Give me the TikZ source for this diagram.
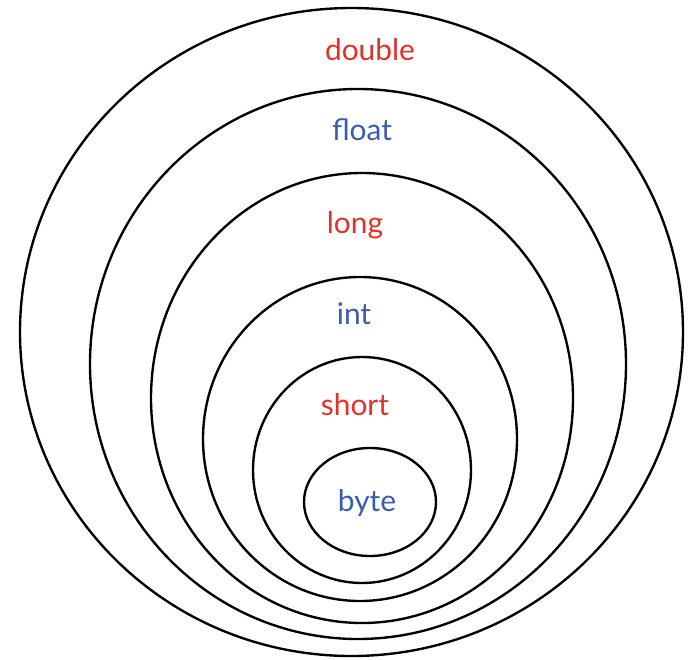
\documentclass[tikz,border=0pt]{standalone}
\usepackage{fontspec}
\setmainfont{Lato}
\usepackage{xcolor}
\definecolor{typered}{HTML}{E3302B}
\definecolor{typeblue}{HTML}{3A5CAD}

\tikzset{
  ring/.style={draw=black,line width=1.35pt},
  typename/.style={font=\fontsize{17}{20}\selectfont},
}

\begin{document}
\begin{tikzpicture}[x=0.02cm,y=-0.02cm]
  \useasboundingbox (0,0) rectangle (689,659);
  % Rings, outside in
  \draw[ring] (351.5,332) ellipse [x radius=331.5, y radius=324];
  \draw[ring] (358,364) ellipse [x radius=268, y radius=275];
  \draw[ring] (362,398) ellipse [x radius=211, y radius=225];
  \draw[ring] (360,439) ellipse [x radius=157, y radius=162];
  \draw[ring] (362,470) ellipse [x radius=109, y radius=113];
  \draw[ring] (370,502) ellipse [x radius=66, y radius=54];
  % Type names
  \node[typename,typered] (double) at (370,50) {double};
  \node[typename,typeblue] (float) at (362,130) {float};
  \node[typename,typered] (long) at (355,225) {long};
  \node[typename,typeblue] (int) at (354,314) {int};
  \node[typename,typered] (short) at (355,405) {short};
  \node[typename,typeblue] (byte) at (367,503) {byte};
\end{tikzpicture}
\end{document}
